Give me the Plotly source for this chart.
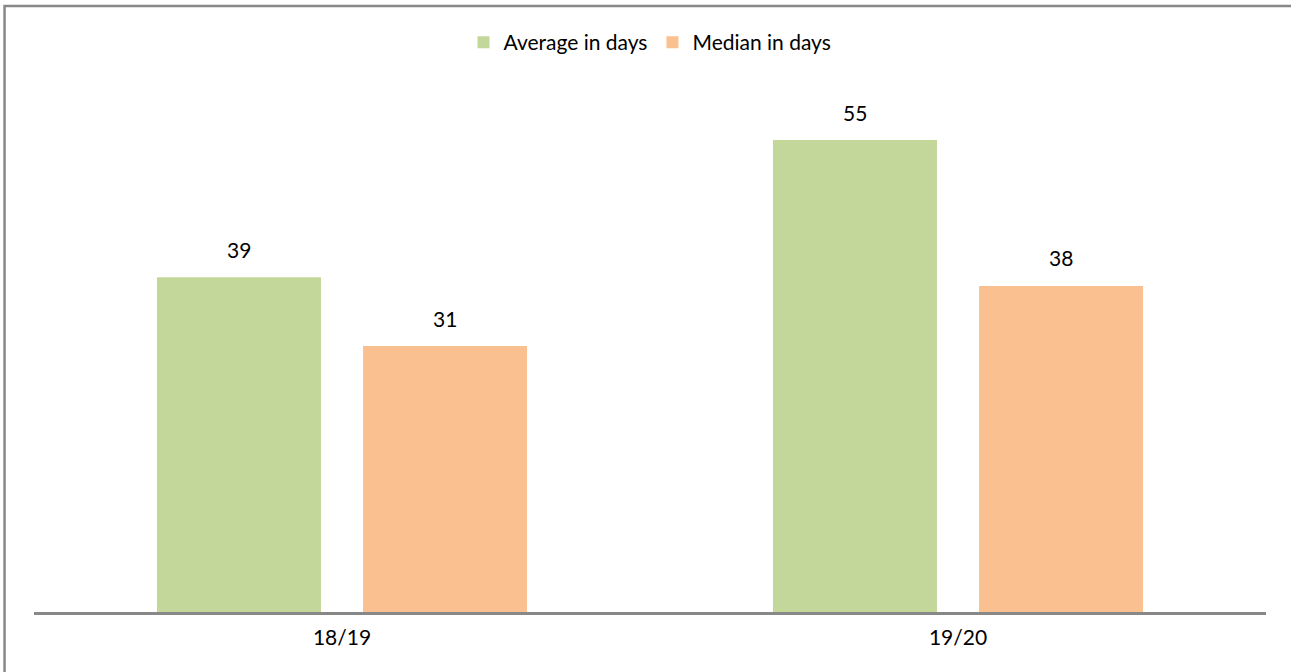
"""Average vs median days, grouped bar chart"""
import plotly.graph_objects as go

years = ["18/19", "19/20"]
average_days = [39, 55]
median_days = [31, 38]

GREEN = "#C4D79B"
ORANGE = "#FAC090"
FONT = "Lato, 'Open Sans', sans-serif"

fig = go.Figure()
fig.add_trace(go.Bar(name="Average in days", x=years, y=average_days,
                     marker_color=GREEN, marker_line_width=0))
fig.add_trace(go.Bar(name="Median in days", x=years, y=median_days,
                     marker_color=ORANGE, marker_line_width=0))

# value labels above bars
for vals, off in ((average_days, -0.5), (median_days, 0.5)):
    for i, v in enumerate(vals):
        fig.add_annotation(x=i, y=v, text=str(v), showarrow=False,
                           xshift=off * 206, yshift=28,
                           font=dict(size=21, color="#000000", family=FONT))

# outer chart border
fig.add_shape(type="rect", xref="paper", yref="paper",
              x0=-0.0239, x1=1.05, y0=-0.3, y1=1.139,
              line=dict(color="#888888", width=2.5), layer="above")

fig.update_layout(
    width=1291, height=672,
    margin=dict(l=34, r=25, t=80, b=60),
    paper_bgcolor="white", plot_bgcolor="white",
    barmode="group", bargap=0.331, bargroupgap=0.204,
    font=dict(family=FONT, size=21, color="#000000"),
    legend=dict(orientation="h", x=0.5, xanchor="center", y=1.139 - 0.03,
                yanchor="top", font=dict(size=21), itemwidth=30,
                traceorder="normal"),
    xaxis=dict(showline=True, linecolor="#888888", linewidth=2.5,
               ticks="", tickfont=dict(size=21), ticklabelstandoff=5),
    yaxis=dict(range=[0, 62], visible=False, showgrid=False),
    showlegend=True,
)

fig.write_html("out.html", config={"displayModeBar": False},
               post_script="document.body.style.margin='0';")
